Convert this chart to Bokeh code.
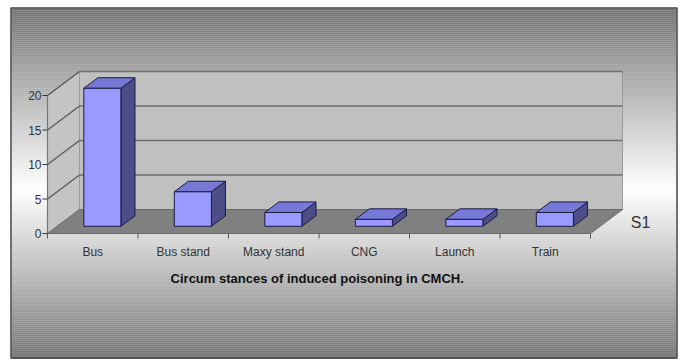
import numpy as np
from bokeh.plotting import figure
from bokeh.models import Range1d
from bokeh.core.properties import value
from bokeh.embed import file_html
from bokeh.resources import INLINE

# ---- data -------------------------------------------------------------
categories = ["Bus", "Bus stand", "Maxy stand", "CNG", "Launch", "Train"]
counts = [20, 5, 2, 1, 1, 2]
y_ticks = [0, 5, 10, 15, 20]
series_name = "S1"
chart_title = "Circum stances  of induced poisoning in CMCH."

# ---- layout constants (pixels) ---------------------------------------
W, H = 682, 361
X0, Y0 = 47, 233          # front-left corner of the floor
CAT_W = 90.5              # width of one category slot
PX_UNIT = 6.9             # pixels per count
DEPTH_X, DEPTH_Y = 32, 24 # 3-D depth offset of the walls

DX = DEPTH_X / CAT_W
DY = DEPTH_Y / PX_UNIT
n = len(categories)
y_max = max(y_ticks)
FONT = value("Liberation Sans")


def px_x(px):
    return (px - X0) / CAT_W


def px_y(py):
    return (Y0 - py) / PX_UNIT


p = figure(width=W, height=H,
           x_range=Range1d(px_x(0), px_x(W)),
           y_range=Range1d(px_y(H), px_y(0)),
           x_axis_location=None, y_axis_location=None,
           output_backend="svg", toolbar_location=None, min_border=0)
p.grid.visible = False
p.outline_line_color = None
p.background_fill_color = "white"
p.border_fill_color = "white"

# ---- chart area background: vertical grey-white-grey gradient --------
top_px, bot_px, peak_px = 8, 358, 188
rows = np.arange(top_px, bot_px, 2)
dark, light = 0x74, 0xff
cols = []
for r in rows:
    if r < peak_px:
        t = (r - top_px) / (peak_px - top_px)
    else:
        t = (bot_px - r) / (bot_px - peak_px)
    g = int(round(dark + (light - dark) * t))
    cols.append("#%02x%02x%02x" % (g, g, g))
p.quad(left=px_x(11), right=px_x(676),
       top=[px_y(r) for r in rows], bottom=[px_y(r + 2.2) for r in rows],
       fill_color=cols, line_color=None)
p.quad(left=px_x(10.5), right=px_x(676.5), top=px_y(7.5), bottom=px_y(357.5),
       fill_color=None, line_color="#444444", line_width=1.5)

# ---- 3-D walls and floor ---------------------------------------------
p.quad(left=DX, right=n + DX, bottom=DY, top=y_max + DY,
       fill_color="#c0c0c0", line_color="#9a9a9a", line_width=1)
p.patch([0, 0, DX, DX], [0, y_max, y_max + DY, DY],
        fill_color="#c4c4c4", line_color="#9a9a9a", line_width=1)
p.patch([0, n, n + DX, DX], [0, 0, DY, DY],
        fill_color="#808080", line_color="#6a6a6a", line_width=1)

# gridlines on back wall and side wall
for t in y_ticks[1:]:
    p.line([DX, n + DX], [t + DY, t + DY], line_color="#6e6e6e", line_width=1.4)
    p.line([0, DX], [t, t + DY], line_color="#555555", line_width=1.2)

# value axis line, ticks and labels
p.line([0, 0], [0, y_max], line_color="#777777", line_width=1.2)
for t in y_ticks:
    p.line([0, px_x(X0 - 5)], [t, t], line_color="#333333", line_width=1)
p.text(x=px_x(X0 - 6), y=y_ticks, text=[str(t) for t in y_ticks],
       text_align="right", text_baseline="middle",
       text_font=FONT, text_font_size="12px", text_color="#333333")

# category ticks on the front floor edge
for k in range(n + 1):
    p.line([k, k], [0, px_y(Y0 + 5)], line_color="#555555", line_width=1)

# ---- bars ------------------------------------------------------------
bar_w = 0.41
d0, d1 = 0.30, 0.74
ox0, oy0 = DX * d0, DY * d0
ddx, ddy = DX * (d1 - d0), DY * (d1 - d0)
for i, v in enumerate(counts):
    xl = i + 0.5 - bar_w / 2 + ox0
    xr = xl + bar_w
    yb = oy0
    yt = v + oy0
    p.patch([xr, xr + ddx, xr + ddx, xr], [yb, yb + ddy, yt + ddy, yt],
            fill_color="#4d4d88", line_color="#1a1a40", line_width=1)
    p.patch([xl, xr, xr + ddx, xl + ddx], [yt, yt, yt + ddy, yt + ddy],
            fill_color="#7878d8", line_color="#1a1a40", line_width=1)
    p.quad(left=xl, right=xr, bottom=yb, top=yt,
           fill_color="#9999ff", line_color="#1a1a40", line_width=1)

# ---- texts -----------------------------------------------------------
p.text(x=[i + 0.5 for i in range(n)], y=px_y(Y0 + 18), text=categories,
       text_align="center", text_baseline="middle",
       text_font=FONT, text_font_size="12px", text_color="#333333")
p.text(x=[n / 2], y=[px_y(278)], text=[chart_title],
       text_align="center", text_baseline="middle",
       text_font=FONT, text_font_size="13px",
       text_font_style="bold", text_color="#111111")
p.text(x=[px_x(640)], y=[px_y(222)], text=[series_name],
       text_align="center", text_baseline="middle",
       text_font=FONT, text_font_size="16px", text_color="#333333")

open("out.html", "w").write(file_html(p, INLINE))
